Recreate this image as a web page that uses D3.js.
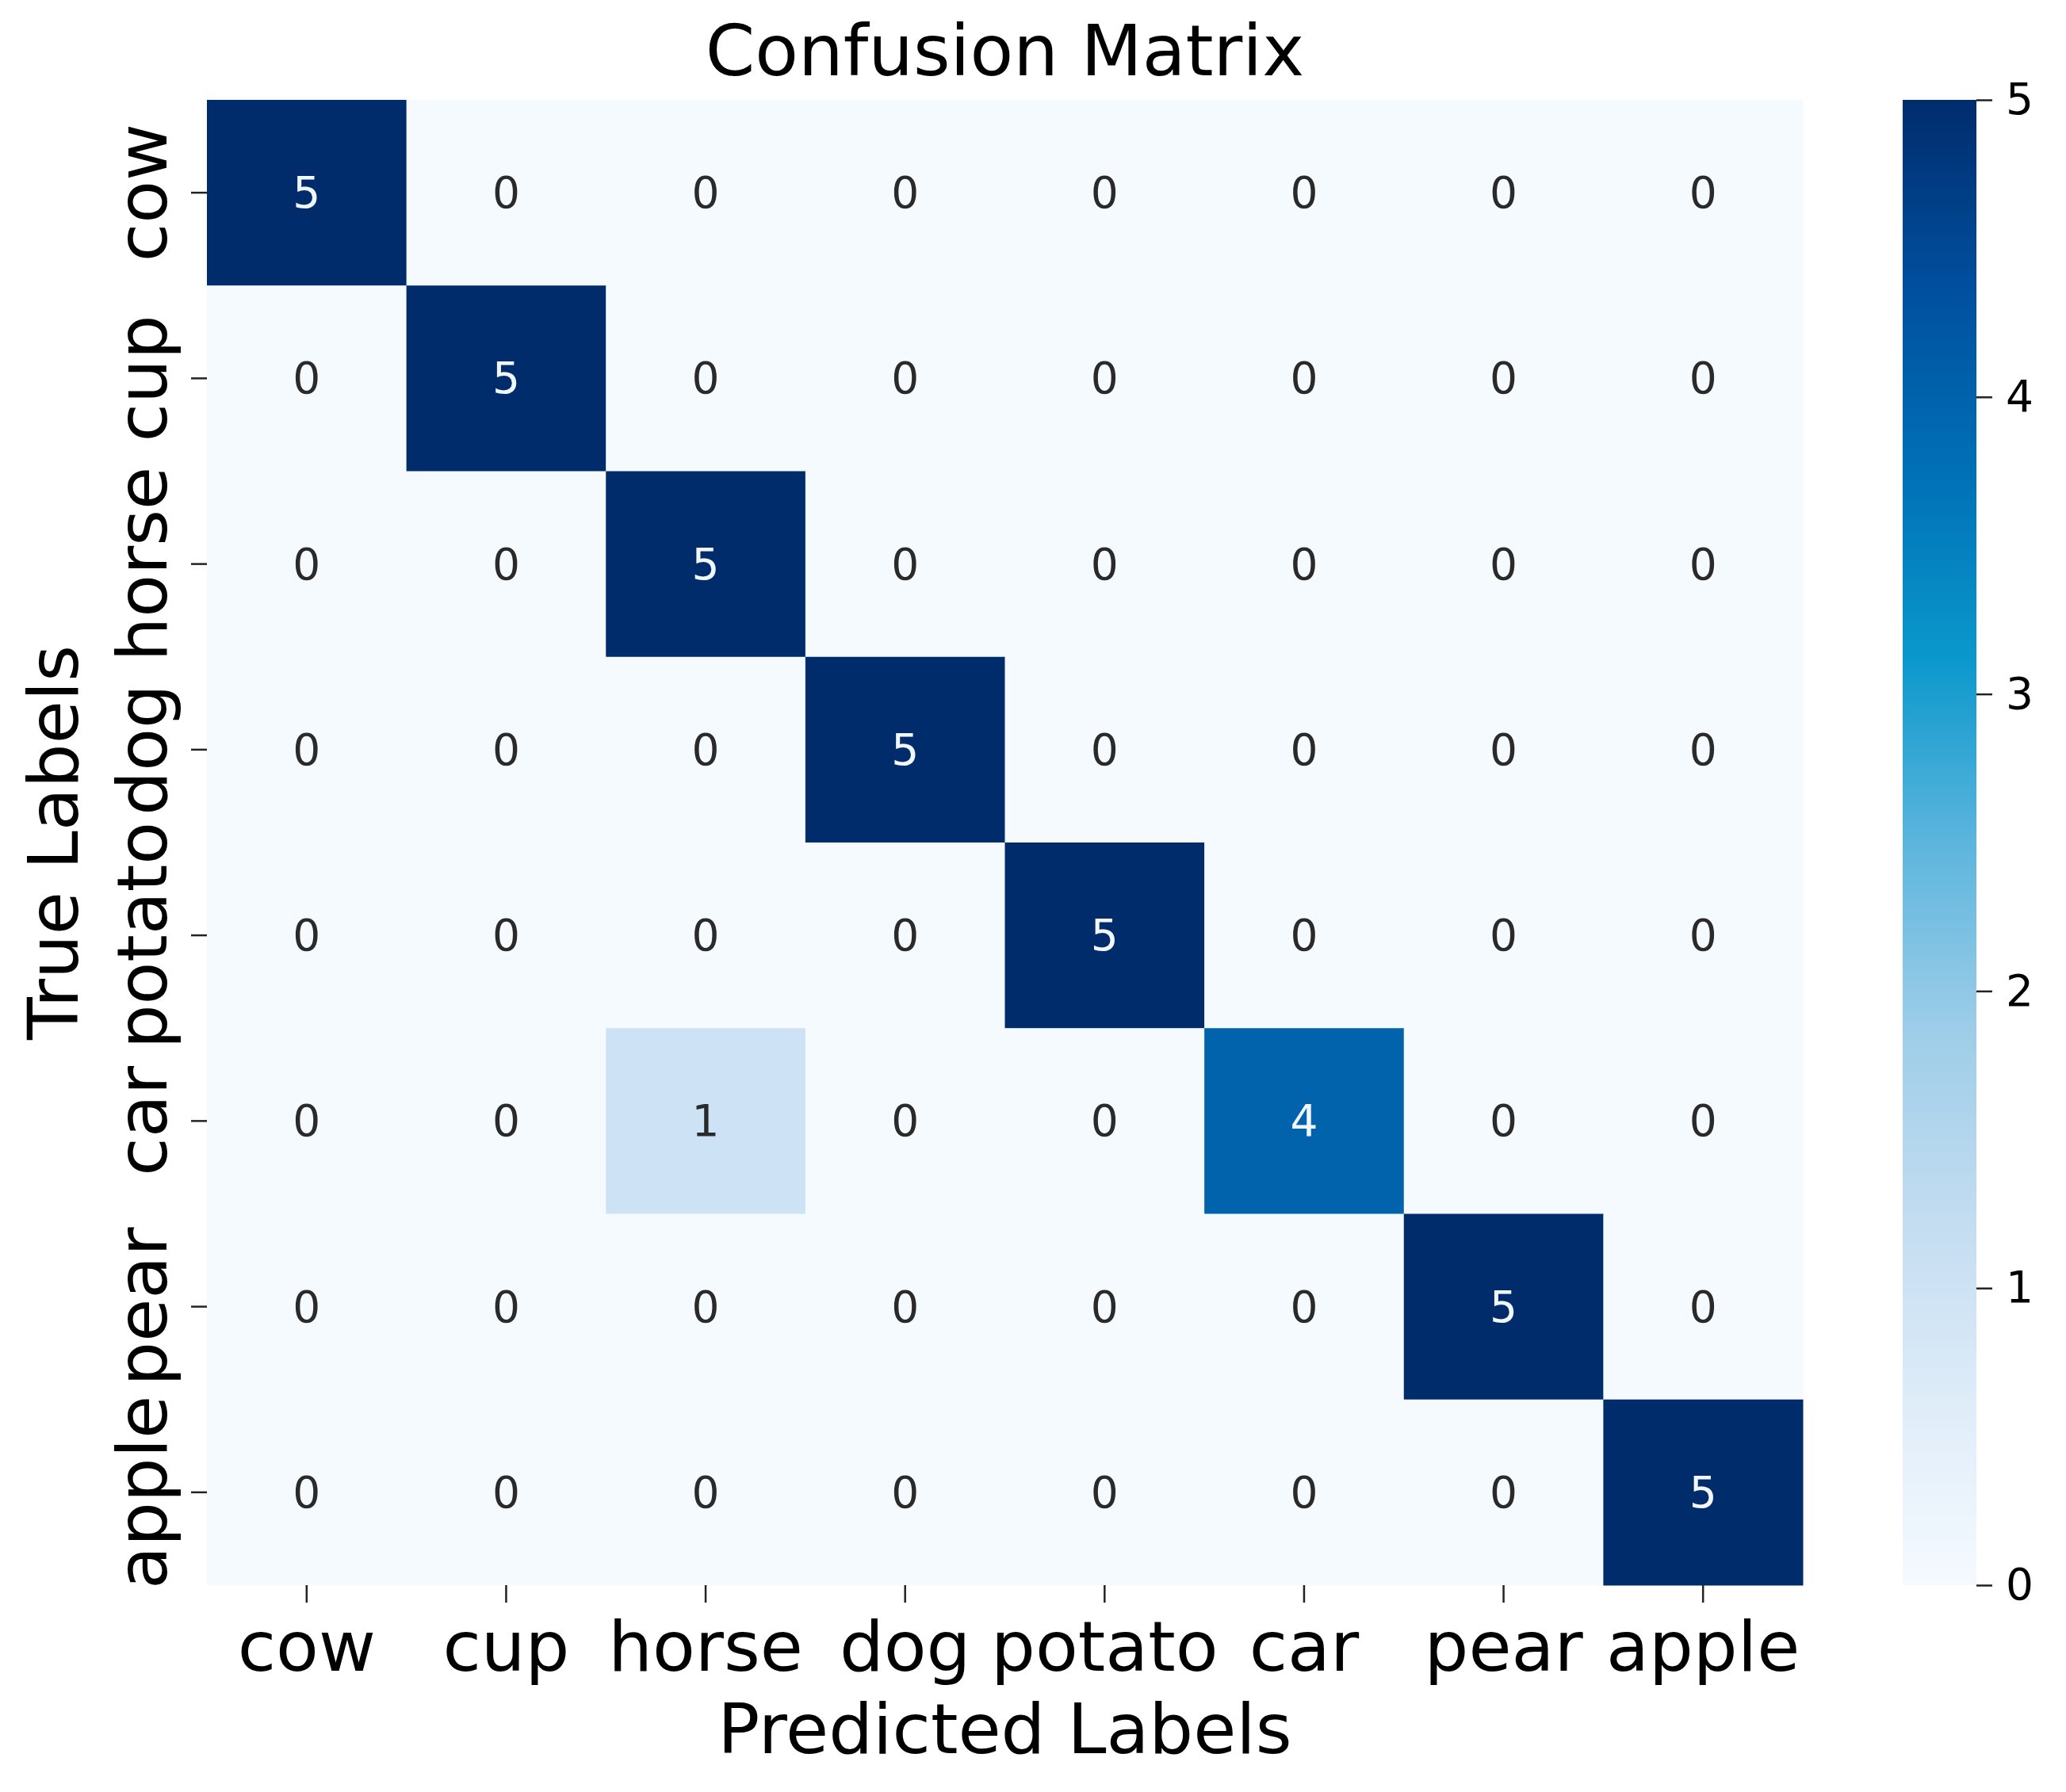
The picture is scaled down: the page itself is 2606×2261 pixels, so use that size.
<!DOCTYPE html>
<html>
<head>
<meta charset="utf-8">
<script src="https://cdn.jsdelivr.net/npm/d3@7"></script>
<style>
  html, body { margin: 0; padding: 0; background: #ffffff; }
  svg { display: block; }
  text { font-family: "DejaVu Sans", sans-serif; }
</style>
</head>
<body>
<script>
// ---------- data ----------
const trueLabels = ["cow", "cup", "horse", "dog", "potato", "car", "pear", "apple"];
const predictedLabels = ["cow", "cup", "horse", "dog", "potato", "car", "pear", "apple"];
const matrix = [
  [5, 0, 0, 0, 0, 0, 0, 0],
  [0, 5, 0, 0, 0, 0, 0, 0],
  [0, 0, 5, 0, 0, 0, 0, 0],
  [0, 0, 0, 5, 0, 0, 0, 0],
  [0, 0, 0, 0, 5, 0, 0, 0],
  [0, 0, 1, 0, 0, 4, 0, 0],
  [0, 0, 0, 0, 0, 0, 5, 0],
  [0, 0, 0, 0, 0, 0, 0, 5]
];
const colorbarTicks = [0, 1, 2, 3, 4, 5];
// Blues palette as it appears (saturated) in the reference
const bluesPalette = ["#f5faff","#deecf8","#c2dcf1","#9dcde8","#5cb5dd","#0a98cc","#0070b6","#004f9e","#012c6c"];
const titleText = "Confusion Matrix";
const xLabelText = "Predicted Labels";
const yLabelText = "True Labels";

(function () {
// ---------- layout ----------
const W = 2606, H = 2261;
const mLeft = 261, mRight = 2274, mTop = 126, mBottom = 2000;
const cbLeft = 2400, cbRight = 2493;
const bigFont = 88, titleFont = 89.5, smallFont = 55;

const svg = d3.select("body").append("svg")
  .attr("width", W).attr("height", H)
  .attr("viewBox", `0 0 ${W} ${H}`);

svg.append("rect").attr("width", W).attr("height", H).attr("fill", "#ffffff");

const x = d3.scaleBand().domain(predictedLabels).range([mLeft, mRight]).padding(0);
const y = d3.scaleBand().domain(trueLabels).range([mTop, mBottom]).padding(0);

const vmin = 0, vmax = 5;
const color = d3.scaleLinear()
  .domain(bluesPalette.map((_, i) => vmin + (vmax - vmin) * i / (bluesPalette.length - 1)))
  .range(bluesPalette)
  .interpolate(d3.interpolateRgb)
  .clamp(true);

const cells = [];
matrix.forEach((row, i) => row.forEach((v, j) => cells.push({ t: trueLabels[i], p: predictedLabels[j], v })));

function lum(c) {
  const rgb = d3.rgb(c);
  const f = u => { u /= 255; return u <= 0.03928 ? u / 12.92 : Math.pow((u + 0.055) / 1.055, 2.4); };
  return 0.2126 * f(rgb.r) + 0.7152 * f(rgb.g) + 0.0722 * f(rgb.b);
}

const g = svg.append("g");
g.selectAll("rect.cell").data(cells).enter().append("rect")
  .attr("class", "cell")
  .attr("x", d => x(d.p))
  .attr("y", d => y(d.t))
  .attr("width", x.bandwidth() + 0.5)
  .attr("height", y.bandwidth() + 0.5)
  .attr("fill", d => color(d.v));

g.selectAll("text.annot").data(cells).enter().append("text")
  .attr("class", "annot")
  .attr("x", d => x(d.p) + x.bandwidth() / 2)
  .attr("y", d => y(d.t) + y.bandwidth() / 2)
  .attr("text-anchor", "middle")
  .attr("dominant-baseline", "central")
  .attr("font-size", smallFont)
  .attr("fill", d => lum(color(d.v)) > 0.408 ? "#2a2a2a" : "#f2f7fc")
  .text(d => d.v);

// ---------- x axis ----------
const xAxis = svg.append("g")
  .attr("transform", `translate(0,${mBottom})`)
  .call(d3.axisBottom(x).tickSize(22).tickSizeOuter(0));
xAxis.select(".domain").remove();
xAxis.selectAll(".tick line").attr("stroke", "#222").attr("stroke-width", 2.5);
xAxis.selectAll(".tick text")
  .attr("y", 108).attr("dy", null)
  .attr("font-size", bigFont)
  .attr("fill", "#000")
  .attr("font-family", "DejaVu Sans, sans-serif");

// ---------- y axis ----------
const yAxis = svg.append("g")
  .attr("transform", `translate(${mLeft},0)`)
  .call(d3.axisLeft(y).tickSize(20).tickSizeOuter(0));
yAxis.select(".domain").remove();
yAxis.selectAll(".tick line").attr("stroke", "#222").attr("stroke-width", 2.5);
yAxis.selectAll(".tick text")
  .attr("x", null).attr("y", null).attr("dy", null)
  .attr("transform", "translate(-51,0) rotate(-90)")
  .attr("text-anchor", "middle")
  .attr("font-size", bigFont)
  .attr("fill", "#000")
  .attr("font-family", "DejaVu Sans, sans-serif");

// ---------- colorbar ----------
const defs = svg.append("defs");
const grad = defs.append("linearGradient")
  .attr("id", "cbgrad")
  .attr("x1", 0).attr("y1", 1).attr("x2", 0).attr("y2", 0);
bluesPalette.forEach((c, i) => {
  grad.append("stop").attr("offset", i / (bluesPalette.length - 1)).attr("stop-color", c);
});
const cScale = d3.scaleLinear().domain([vmin, vmax]).range([mBottom, mTop]);
svg.append("rect")
  .attr("x", cbLeft).attr("y", cScale(vmax))
  .attr("width", cbRight - cbLeft).attr("height", cScale(vmin) - cScale(vmax))
  .attr("fill", "url(#cbgrad)");
const cAxis = svg.append("g")
  .attr("transform", `translate(${cbRight},0)`)
  .call(d3.axisRight(cScale).tickValues(colorbarTicks).tickFormat(d3.format("d")).tickSize(20).tickPadding(17));
cAxis.select(".domain").remove();
cAxis.selectAll(".tick line").attr("stroke", "#222").attr("stroke-width", 2.5);
cAxis.selectAll(".tick text")
  .attr("font-size", smallFont)
  .attr("fill", "#000")
  .attr("font-family", "DejaVu Sans, sans-serif");

// ---------- titles ----------
svg.append("text")
  .attr("x", (mLeft + mRight) / 2).attr("y", 95)
  .attr("text-anchor", "middle")
  .attr("font-size", titleFont)
  .attr("fill", "#000")
  .text(titleText);

svg.append("text")
  .attr("x", (mLeft + mRight) / 2).attr("y", 2212)
  .attr("text-anchor", "middle")
  .attr("font-size", bigFont)
  .attr("fill", "#000")
  .text(xLabelText);

svg.append("text")
  .attr("transform", `translate(98,${(mTop + mBottom) / 2}) rotate(-90)`)
  .attr("text-anchor", "middle")
  .attr("font-size", bigFont)
  .attr("fill", "#000")
  .text(yLabelText);
})();
</script>
</body>
</html>
